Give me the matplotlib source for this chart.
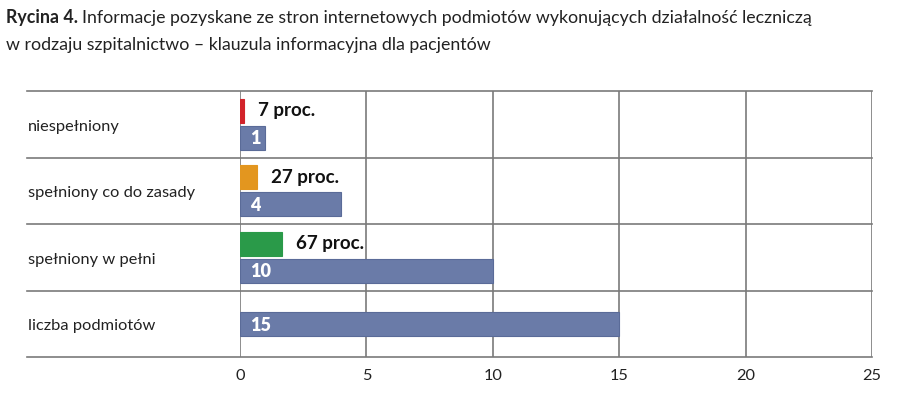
import matplotlib
matplotlib.use("Agg")
import matplotlib.pyplot as plt
import matplotlib.transforms as mtransforms
from matplotlib import font_manager

names = {f.name for f in font_manager.fontManager.ttflist}
main_font = "Lato" if "Lato" in names else "DejaVu Sans"
narrow = "Liberation Sans Narrow" if "Liberation Sans Narrow" in names else main_font

categories = ["niespełniony", "spełniony co do zasady", "spełniony w pełni", "liczba podmiotów"]
counts = [1, 4, 10, 15]
pct_values = [7, 27, 67, None]
pct_colors = ["#d2232a", "#e3961f", "#2a9a49"]
xticks = [0, 5, 10, 15, 20, 25]
pct_scale = 2.5 / 100  # percent bars drawn on the 0-2.5 span of the axis

blue = "#6a7ba8"
grid_c = "#7a7a7a"
txt_c = "#222222"

fig = plt.figure(figsize=(9, 3.95), dpi=100)
ax = fig.add_axes([240 / 900, 1 - 357 / 395, 632 / 900, 266 / 395])
ax.set_xlim(0, 25)
ax.set_ylim(3.5, -0.5)

bh = 0.36
off = 0.2
for i, (c, p) in enumerate(zip(counts, pct_values)):
    if p is None:
        yb = i
    else:
        yb = i + off
        yp = i - off
        w = p * pct_scale
        ax.barh(yp, w, height=bh, color=pct_colors[i], edgecolor=pct_colors[i], lw=0.8, zorder=3)
        ax.text(w + 0.55, yp, f"{p} proc.", va="center", ha="left", fontsize=13.5,
                fontweight="bold", family=narrow, color="#111111", zorder=4)
    ax.barh(yb, c, height=bh, color=blue, edgecolor="#5a6b98", lw=0.8, zorder=3)
    ax.text(0.38, yb + 0.02, str(c), va="center", ha="left", fontsize=13,
            fontweight="heavy", family=narrow, color="white", zorder=4)

for x in xticks:
    ax.axvline(x, color=grid_c, lw=1.2, zorder=2)
for yb in [-0.5, 0.5, 1.5, 2.5, 3.5]:
    ax.axhline(yb, xmin=(27 - 240) / 632, xmax=1, color=grid_c, lw=1.2, clip_on=False, zorder=2)

for s in ax.spines.values():
    s.set_visible(False)
ax.set_yticks([])
ax.set_xticks(xticks)
ax.set_xticklabels([str(x) for x in xticks], fontsize=11.8, color=txt_c, family=main_font)
ax.tick_params(axis="x", length=0, pad=9)

blend = mtransforms.blended_transform_factory(fig.transFigure, ax.transData)
for i, cat in enumerate(categories):
    ax.text(28 / 900, i + 0.04, cat, transform=blend, fontsize=11.8, color=txt_c,
            va="center", ha="left", family=main_font)

t1 = fig.text(6 / 900, 1 - 18 / 395, "Rycina 4.", fontsize=12.8, fontweight="bold",
              color=txt_c, va="center", family=main_font)
fig.canvas.draw()
bb = t1.get_window_extent()
fig.text(bb.x1 / 900 + 4 / 900, 1 - 18 / 395,
         "Informacje pozyskane ze stron internetowych podmiotów wykonujących działalność leczniczą",
         fontsize=12.8, color=txt_c, va="center", family=main_font)
fig.text(6 / 900, 1 - 45 / 395, "w rodzaju szpitalnictwo – klauzula informacyjna dla pacjentów",
         fontsize=12.8, color=txt_c, va="center", family=main_font)

fig.savefig("out.png", dpi=100)
